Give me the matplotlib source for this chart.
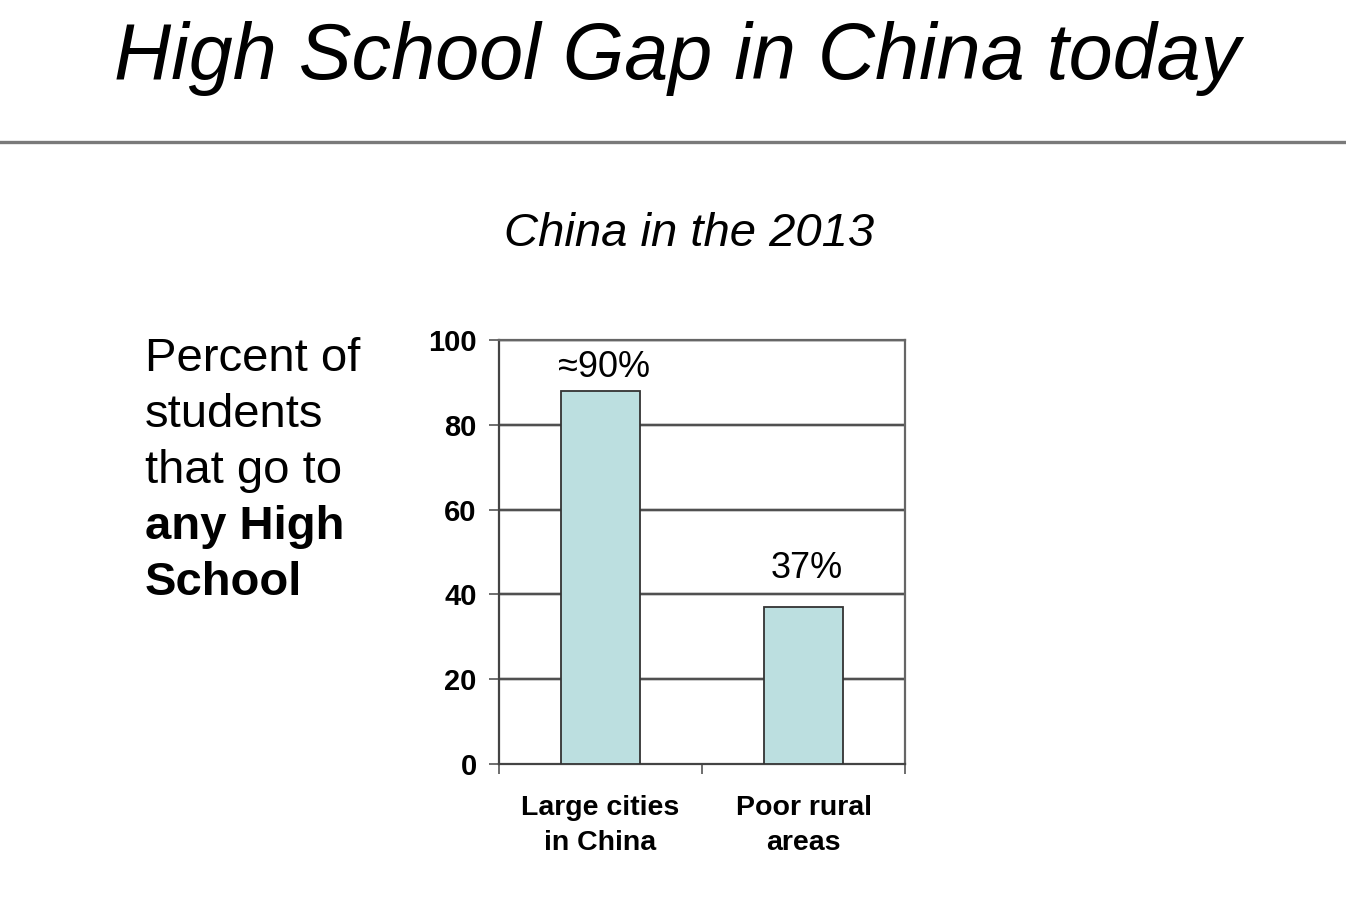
import matplotlib
matplotlib.use("Agg")
import matplotlib.pyplot as plt
from matplotlib.lines import Line2D

plt.rcParams['font.family'] = ['Liberation Sans', 'DejaVu Sans']

# ---- data ----
categories = ["Large cities\nin China", "Poor rural\nareas"]
values = [88, 37]
value_labels = ["\u224890%", "37%"]
y_ticks = [0, 20, 40, 60, 80, 100]
title = "High School Gap in China today"
subtitle = "China in the 2013"
side_lines = ["Percent of", "students", "that go to", "any High", "School"]
side_bold = [False, False, False, True, True]

W, H = 1346, 908
fig = plt.figure(figsize=(W / 100, H / 100), dpi=100)
fig.patch.set_facecolor("white")

# title and rule
fig.text(677 / W, 1 - 79 / H, title, ha="center", va="baseline",
         fontsize=57, style="italic")
fig.add_artist(Line2D([0, 1], [1 - 142 / H, 1 - 142 / H], transform=fig.transFigure,
                      color="#7a7a7a", lw=2.4))
fig.text(689 / W, 1 - 246 / H, subtitle, ha="center", va="baseline",
         fontsize=34, style="italic")

# side text
baselines = [371, 427, 483, 539, 595]
for line, bold, b in zip(side_lines, side_bold, baselines):
    fig.text(145 / W, 1 - b / H, line, ha="left", va="baseline", fontsize=34,
             fontweight="bold" if bold else "normal")

# axes
ax = fig.add_axes([499 / W, 1 - 764 / H, (905 - 499) / W, (764 - 340) / H])
x = list(range(len(categories)))
ax.set_xlim(-0.5, len(categories) - 0.5)
ax.set_ylim(0, 100)

for t in y_ticks[1:]:
    ax.axhline(t, color="#bdbdbd", lw=2.6, zorder=1)
    ax.axhline(t, color="#303030", lw=1.1, zorder=1.1)

bars = ax.bar(x, values, width=0.39, color="#bcdfe0", edgecolor="#333333",
              linewidth=1.3, zorder=3)

offsets = [10, 21]
for xi, v, lab, off in zip(x, values, value_labels, offsets):
    ax.annotate(lab, (xi + 0.015, v), xytext=(0, off), textcoords="offset points",
                ha="center", va="baseline", fontsize=26, zorder=4)

ax.set_yticks(y_ticks)
ax.set_yticklabels([str(t) for t in y_ticks], fontsize=21, fontweight="bold")
ax.tick_params(axis="y", length=7, width=1.2, color="#555555", pad=9, direction="out")

ax.set_xticks(x)
ax.set_xticklabels(categories, fontsize=20.5, fontweight="bold", linespacing=1.45)
ax.tick_params(axis="x", which="major", length=0, pad=22)
ax.set_xticks([i - 0.5 for i in range(len(categories) + 1)], minor=True)
ax.tick_params(axis="x", which="minor", length=7, width=1.2, color="#555555", direction="out")

for side in ["top", "right"]:
    ax.spines[side].set_color("#666666")
    ax.spines[side].set_linewidth(1.6)
for side in ["left", "bottom"]:
    ax.spines[side].set_color("#444444")
    ax.spines[side].set_linewidth(1.6)

fig.savefig("out.png", dpi=100, facecolor="white")
